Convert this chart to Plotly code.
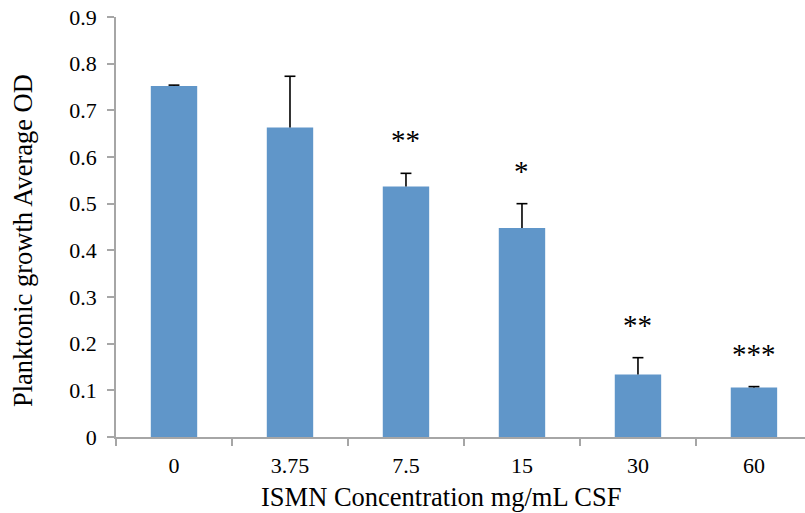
import plotly.graph_objects as go

categories = ["0", "3.75", "7.5", "15", "30", "60"]
values = [0.752, 0.663, 0.537, 0.448, 0.134, 0.106]
errors = [0.002, 0.110, 0.028, 0.052, 0.036, 0.002]
significance = ["", "", "**", "*", "**", "***"]
y_ticks = [0, 0.1, 0.2, 0.3, 0.4, 0.5, 0.6, 0.7, 0.8, 0.9]
y_tick_labels = ["0", "0.1", "0.2", "0.3", "0.4", "0.5", "0.6", "0.7", "0.8", "0.9"]
x_title = "ISMN Concentration mg/mL CSF"
y_title = "Planktonic growth Average OD"

FONT = "Liberation Serif"
idx = list(range(len(categories)))

fig = go.Figure()
fig.add_trace(go.Bar(
    x=idx, y=values,
    marker=dict(color="#6096c9", line=dict(width=0)),
    width=0.4, hoverinfo="skip",
))

# upper-only error bars (stem + top cap)
ex, ey = [], []
cap = 0.047
for i, v, e in zip(idx, values, errors):
    ex += [i, i, None, i - cap, i + cap, None]
    ey += [v, v + e, None, v + e, v + e, None]
fig.add_trace(go.Scatter(x=ex, y=ey, mode="lines",
                         line=dict(color="black", width=1.6), hoverinfo="skip"))

for i, v, e, s in zip(idx, values, errors, significance):
    if s:
        fig.add_annotation(x=i, y=v + e, text=s, showarrow=False,
                           yanchor="middle", yshift=33,
                           font=dict(family=FONT, size=29, color="black"))

# axis titles
fig.add_annotation(xref="paper", yref="paper", x=0.4717, y=-0.143, text=x_title,
                   showarrow=False, xanchor="center", yanchor="middle",
                   font=dict(family=FONT, size=26.5, color="black"))
fig.add_annotation(xref="paper", yref="paper", x=-0.135, y=0.469, text=y_title,
                   showarrow=False, xanchor="center", yanchor="middle", textangle=-90,
                   font=dict(family=FONT, size=26.5, color="black"))

fig.update_layout(
    width=805, height=513,
    margin=dict(l=116, r=0, t=17, b=76),
    paper_bgcolor="white", plot_bgcolor="white",
    showlegend=False,
    font=dict(family=FONT, size=22, color="black"),
    xaxis=dict(
        range=[-0.5, 5.44], showline=True, linecolor="#a6a6a6", linewidth=1.5,
        tickmode="array", tickvals=idx, ticktext=categories,
        ticks="", showgrid=False, zeroline=False, automargin=False,
        ticklabelstandoff=8,
        minor=dict(tickmode="array", tickvals=[i - 0.5 for i in idx] + [len(idx) - 0.5],
                   ticks="outside", ticklen=7, tickcolor="#a6a6a6", tickwidth=1.5, showgrid=False),
    ),
    yaxis=dict(
        range=[0, 0.9], showline=True, linecolor="#a6a6a6", linewidth=1.5,
        ticks="outside", ticklen=7, tickcolor="#a6a6a6", tickwidth=1.5,
        tickvals=y_ticks, ticktext=y_tick_labels, ticklabelstandoff=6,
        automargin=False, showgrid=False, zeroline=False,
    ),
)

fig.write_html("out.html", config={"displayModeBar": False},
               post_script="document.body.style.margin='0';")
